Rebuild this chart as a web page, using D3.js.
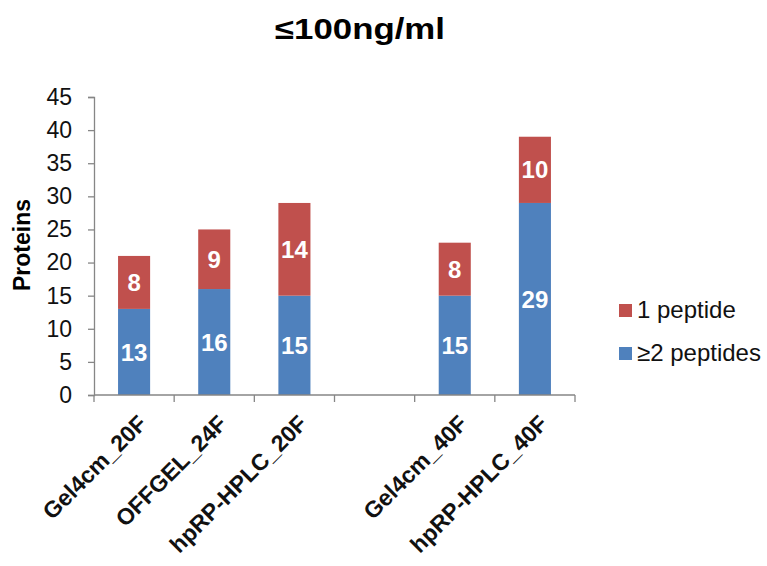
<!DOCTYPE html>
<html><head><meta charset="utf-8">
<script src="https://cdn.jsdelivr.net/npm/d3@7"></script>
<style>body{margin:0;background:#fff}svg{display:block}text{font-family:"Liberation Sans",Arial,sans-serif}</style>
</head><body>
<svg id="c" width="767" height="566"></svg>
<script>
const categories = ["Gel4cm_20F","OFFGEL_24F","hpRP-HPLC_20F","","Gel4cm_40F","hpRP-HPLC_40F"];
const multiPeptides = [13,16,15,null,15,29];
const onePeptide = [8,9,14,null,8,10];
const seriesNames = ["≥2 peptides","1 peptide"];
const yTicks = [0,5,10,15,20,25,30,35,40,45];
const colors = {"≥2 peptides":"#4F81BD","1 peptide":"#C0504D"};

const svg = d3.select("#c");
const m = {left:94, right:575, top:97, bottom:395};
const x = d3.scaleBand().domain(d3.range(categories.length)).range([m.left,m.right]).paddingInner(0.6).paddingOuter(0.3);
const y = d3.scaleLinear().domain([0,45]).range([m.bottom,m.top]);

const rows = categories.map((c,i)=>({i, c, "≥2 peptides":multiPeptides[i]||0, "1 peptide":onePeptide[i]||0}));
const stack = d3.stack().keys(seriesNames)(rows);

// bars
const g = svg.append("g");
stack.forEach(s=>{
  g.selectAll(null).data(s.filter(d=>d[1]>d[0])).enter().append("rect")
    .attr("x",d=>x(d.data.i)).attr("width",x.bandwidth())
    .attr("y",d=>y(d[1])).attr("height",d=>y(d[0])-y(d[1]))
    .attr("fill",colors[s.key]);
  g.selectAll(null).data(s.filter(d=>d[1]>d[0])).enter().append("text")
    .attr("x",d=>x(d.data.i)+x.bandwidth()/2)
    .attr("y",d=>(y(d[0])+y(d[1]))/2)
    .attr("dy","0.36em").attr("text-anchor","middle")
    .attr("fill","#fff").attr("font-weight","bold").attr("font-size",24)
    .text(d=>d[1]-d[0]);
});

// y axis
const yAxis = svg.append("g").attr("transform",`translate(${m.left},0)`)
  .call(d3.axisLeft(y).tickValues(yTicks).tickSize(6).tickPadding(16));
yAxis.selectAll("line,path").attr("stroke","#868686").attr("stroke-width",1.3);
yAxis.selectAll("text").attr("font-size",23).attr("fill","#111").attr("font-family","Liberation Sans, Arial, sans-serif");

// x axis (ticks between bands)
const xg = svg.append("g").attr("transform",`translate(0,${m.bottom})`);
const n = categories.length;
xg.append("line").attr("x1",m.left).attr("x2",m.right).attr("y1",0).attr("y2",0).attr("stroke","#868686").attr("stroke-width",1.3);
d3.range(n+1).forEach(k=>{
  const xx = m.left+k*(m.right-m.left)/n;
  xg.append("line").attr("x1",xx).attr("x2",xx)
    .attr("y1",0).attr("y2",7).attr("stroke","#868686").attr("stroke-width",1.3);
});
xg.selectAll(null).data(categories.map((c,i)=>({c,i})).filter(d=>d.c)).enter().append("text")
  .attr("transform",d=>`translate(${x(d.i)+x.bandwidth()/2+14},${30}) rotate(-45)`)
  .attr("text-anchor","end")
  .attr("font-size",23).attr("font-weight","bold").attr("fill","#111")
  .text(d=>d.c);

// y title
svg.append("text").attr("transform","translate(30,245) rotate(-90)")
  .attr("text-anchor","middle")
  .attr("font-size",23).attr("font-weight","bold").attr("fill","#000").text("Proteins");

// title
svg.append("text").attr("x",360).attr("y",39).attr("text-anchor","middle")
  .attr("font-size",29).attr("font-weight","bold").attr("fill","#000")
  .attr("textLength",170).attr("lengthAdjust","spacingAndGlyphs").text("≤100ng/ml");

// legend
const legendItems = ["1 peptide","≥2 peptides"];
const lg = svg.append("g").attr("transform","translate(619,310)");
legendItems.forEach((k,i)=>{
  lg.append("rect").attr("x",0).attr("y",i*43-6).attr("width",13).attr("height",13).attr("fill",colors[k]);
  lg.append("text").attr("x",18).attr("y",i*43).attr("dy","0.35em").attr("font-size",24).attr("fill","#111").text(k);
});
</script>
</body></html>
